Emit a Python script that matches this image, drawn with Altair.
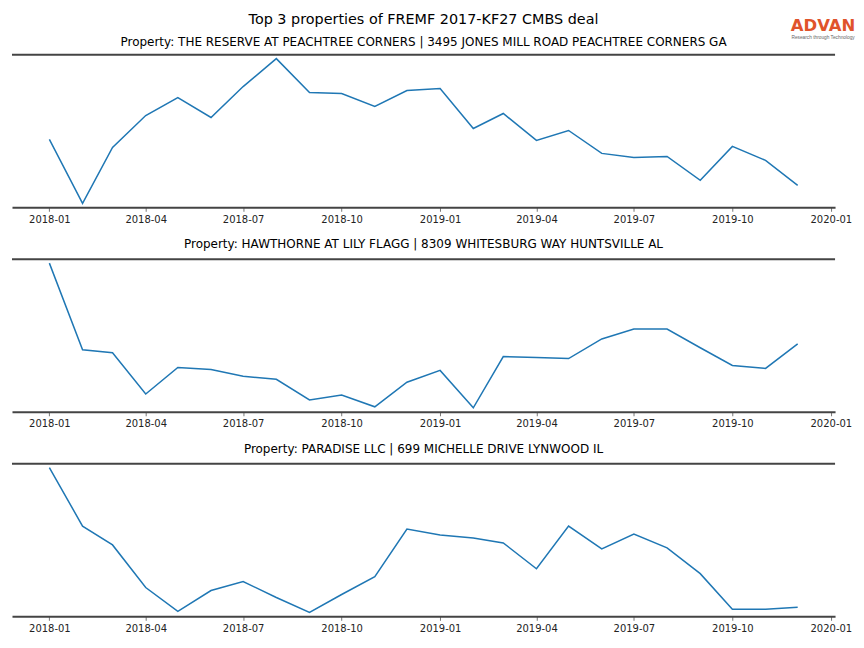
import altair as alt
import pandas as pd

months = ["2018-01-01", "2018-02-01", "2018-03-01", "2018-04-01", "2018-05-01", "2018-06-01",
          "2018-07-01", "2018-08-01", "2018-09-01", "2018-10-01", "2018-11-01", "2018-12-01",
          "2019-01-01", "2019-02-01", "2019-03-01", "2019-04-01", "2019-05-01", "2019-06-01",
          "2019-07-01", "2019-08-01", "2019-09-01", "2019-10-01", "2019-11-01", "2019-12-01"]

main_title = "Top 3 properties of FREMF 2017-KF27 CMBS deal"
titles = [
    "Property: THE RESERVE AT PEACHTREE CORNERS | 3495 JONES MILL ROAD PEACHTREE CORNERS GA",
    "Property: HAWTHORNE AT LILY FLAGG | 8309 WHITESBURG WAY HUNTSVILLE AL",
    "Property: PARADISE LLC | 699 MICHELLE DRIVE LYNWOOD IL",
]
logo_text = "ADVAN"
logo_tagline = "Research through Technology"

visits_1 = [68, 4, 60, 92, 110, 90, 121, 149, 115, 114, 101, 117,
            119, 79, 94, 67, 77, 54, 50, 51, 27, 61, 47, 22]
visits_2 = [149, 61, 58, 16, 43, 41, 34, 31, 10, 15, 3, 28,
            40, 2, 54, 53, 52, 72, 82, 82, 63, 45, 42, 67]
visits_3 = [149, 90, 71, 28, 4, 25, 34, 18, 3, 21, 39, 87,
            81, 78, 73, 47, 90, 67, 82, 68, 42, 6, 6, 8]

tick_dates = ["2018-01", "2018-04", "2018-07", "2018-10", "2019-01",
              "2019-04", "2019-07", "2019-10", "2020-01"]

W, H = 825, 153
FONT = "DejaVu Sans"


def dt(s):
    y, m = s.split("-")[:2]
    return alt.DateTime(year=int(y), month=int(m), date=1)


def label_layer(text, x, y, **kw):
    src = alt.Chart(pd.DataFrame({"t": [text]}))
    return src.mark_text(**kw).encode(text="t:N", x=alt.value(x), y=alt.value(y))


def panel(values, title, first=False):
    df = pd.DataFrame({"month": pd.to_datetime(months), "value": values})
    base = alt.Chart(df)
    line = base.mark_line(color="#1f77b4", strokeWidth=1.5).encode(
        x=alt.X("month:T",
                scale=alt.Scale(domain=[alt.DateTime(year=2017, month=11, date=27, hours=2),
                                        alt.DateTime(year=2020, month=1, date=4, hours=22)]),
                axis=alt.Axis(values=[dt(t) for t in tick_dates], format="%Y-%m",
                              title=None, grid=False, labelFlush=False,
                              domainColor="#444444", domainWidth=2,
                              tickColor="#555555", tickSize=4, tickWidth=0.8,
                              labelFontSize=10, labelColor="#222222", labelFont=FONT,
                              labelPadding=3, labelAngle=0)),
        y=alt.Y("value:Q", scale=alt.Scale(zero=False, nice=False, padding=4), axis=None),
    )
    top = alt.Chart(pd.DataFrame({"a": [0]})).mark_rule(color="#444444", strokeWidth=2).encode(
        x=alt.value(0), x2=alt.value(W), y=alt.value(0)
    )
    layers = [line, top]
    if first:
        layers.append(label_layer(main_title, W / 2, -35, fontSize=14.4, font=FONT,
                                  color="#000000", baseline="middle", align="center"))
        layers.append(label_layer(title, W / 2, -13, fontSize=12, font=FONT,
                                  color="#000000", baseline="middle", align="center"))
        layers.append(label_layer(logo_text, 813, -23.5, fontSize=16.5, fontWeight="bold",
                                  font=FONT, color="#E0532B",
                                  baseline="alphabetic", align="center"))
        layers.append(label_layer(logo_tagline, 813, -15.5, fontSize=4.8,
                                  font="Liberation Sans", color="#666666",
                                  baseline="alphabetic", align="center"))
        return alt.layer(*layers).properties(width=W, height=H)
    return alt.layer(*layers).properties(
        width=W, height=H,
        title=alt.TitleParams(title, fontSize=12, font=FONT, fontWeight="normal",
                              color="#000000", anchor="middle", offset=7),
    )


chart = alt.vconcat(
    panel(visits_1, titles[0], first=True),
    panel(visits_2, titles[1]),
    panel(visits_3, titles[2]),
    spacing=14,
).properties(
    padding={"left": 3, "right": 0, "top": 3, "bottom": 0}
).configure_view(stroke=None)

chart.save("out.html", embed_options={"renderer": "svg", "actions": False})
